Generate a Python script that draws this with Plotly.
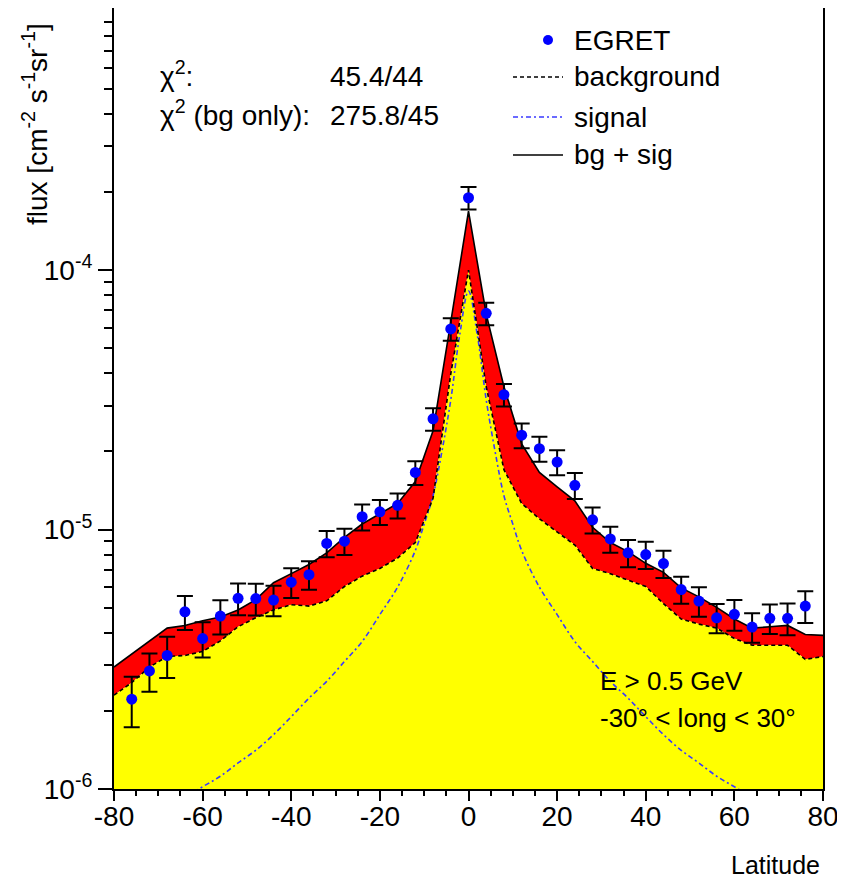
import plotly.graph_objects as go

# ---------------- data (flux in units of 1e-6 cm^-2 s^-1 sr^-1) ----------------
lat_pts = [-76, -72, -68, -64, -60, -56, -52, -48, -44, -40, -36, -32, -28, -24, -20, -16, -12, -8, -4, 0,
           4, 8, 12, 16, 20, 24, 28, 32, 36, 40, 44, 48, 52, 56, 60, 64, 68, 72, 76]
egret = [2.22, 2.85, 3.27, 4.82, 3.80, 4.64, 5.43, 5.42, 5.35, 6.27, 6.70, 8.84, 9.02, 11.2, 11.7, 12.4, 16.6, 26.7, 59.3, 190,
         68.1, 33.1, 23.1, 20.5, 18.2, 14.8, 10.9, 9.2, 8.13, 8.01, 7.39, 5.87, 5.30, 4.57, 4.71, 4.21, 4.55, 4.55, 5.07]
egret_err = [0.49, 0.48, 0.59, 0.72, 0.59, 0.70, 0.76, 0.76, 0.72, 0.82, 0.84, 1.02, 1.04, 1.29, 1.29, 1.36, 1.74, 2.67, 5.9, 19,
             6.8, 3.3, 2.54, 2.26, 2.0, 1.70, 1.25, 1.06, 0.98, 0.96, 0.89, 0.70, 0.69, 0.59, 0.64, 0.55, 0.59, 0.64, 0.71]

lat_curve = [-80, -76, -72, -68, -64, -60, -56, -52, -48, -44, -40, -36, -32, -28, -24, -20, -16, -12, -8, -4, 0,
             4, 8, 12, 16, 20, 24, 28, 32, 36, 40, 44, 48, 52, 56, 60, 64, 68, 72, 76, 80]
background = [2.30, 2.57, 2.95, 3.24, 3.27, 3.39, 3.72, 4.22, 4.57, 4.90, 5.13, 5.07, 5.31, 6.03, 6.61, 7.08, 7.76, 8.91, 13.2, 39.8, 100,
              35.5, 17.0, 12.6, 11.0, 9.77, 8.71, 7.08, 6.76, 6.38, 6.03, 5.18, 4.52, 4.32, 4.17, 3.80, 3.58, 3.58, 3.58, 3.16, 3.24]
bg_sig = [2.95, 3.31, 3.72, 4.17, 4.27, 4.45, 4.60, 4.90, 5.37, 6.24, 6.76, 7.33, 8.13, 9.33, 10.5, 11.5, 12.6, 15.3, 24.0, 63.1, 168.7,
          67.6, 35.5, 21.4, 16.6, 14.6, 12.9, 10.2, 8.91, 8.22, 7.41, 6.84, 5.96, 5.50, 5.01, 4.52, 4.17, 4.22, 4.27, 3.94, 3.91]

lat_sig = [-80, -70, -64, -60, -56, -52, -48, -44, -40, -36, -32, -28, -24, -20, -16, -12, -10, -8, -6, -4, -2, 0,
           2, 4, 6, 8, 10, 12, 16, 20, 24, 28, 32, 36, 40, 44, 48, 52, 56, 60, 64, 70, 80]
signal = [0.66, 0.81, 0.93, 1.02, 1.12, 1.26, 1.41, 1.62, 1.9, 2.24, 2.6, 3.1, 3.7, 4.7, 6.0, 8.3, 10.5, 13.5, 20.0, 31.6, 56, 83,
          56, 31.6, 20.0, 13.5, 10.5, 8.3, 6.0, 4.7, 3.7, 3.1, 2.6, 2.24, 1.9, 1.62, 1.41, 1.26, 1.12, 1.02, 0.93, 0.81, 0.66]

UNIT = 1e-6
FLOOR = 1e-8  # below the axis bottom, used to close the yellow fill

def s(v):
    return [a * UNIT for a in v]

x_ticks = [-80, -60, -40, -20, 0, 20, 40, 60, 80]
x_ticktext = ["-80", "-60", "-40", "-20", "0", "20", "40", "60", "80"]
y_ticks = [1e-6, 1e-5, 1e-4]
y_ticktext = ["10<sup>-6</sup>", "10<sup>-5</sup>", "10<sup>-4</sup>"]
y_minor = [m * 10.0 ** e for e in (-6, -5, -4) for m in range(2, 10)]

FONT = "Liberation Sans, Arial, sans-serif"
SIG_BLUE = "#3a3aff"

fig = go.Figure()

# red band between bg and bg+sig
fig.add_trace(go.Scatter(
    x=lat_curve + lat_curve[::-1], y=s(bg_sig) + s(background)[::-1],
    fill="toself", fillcolor="#ff0000", line=dict(width=0), mode="lines",
    hoverinfo="skip", showlegend=False))
# yellow background fill
fig.add_trace(go.Scatter(
    x=lat_curve + [lat_curve[-1], lat_curve[0]], y=s(background) + [FLOOR, FLOOR],
    fill="toself", fillcolor="#ffff00", line=dict(width=0), mode="lines",
    hoverinfo="skip", showlegend=False))
# signal
fig.add_trace(go.Scatter(
    x=lat_sig, y=s(signal), mode="lines",
    line=dict(color=SIG_BLUE, width=1.6, dash="5px,3px,2px,3px", shape="spline"),
    showlegend=False))
# background line
fig.add_trace(go.Scatter(
    x=lat_curve, y=s(background), mode="lines", line=dict(color="black", width=1.6, dash="4px,3px"),
    showlegend=False))
# bg + sig line
fig.add_trace(go.Scatter(
    x=lat_curve, y=s(bg_sig), mode="lines", line=dict(color="black", width=1.6),
    showlegend=False))
# EGRET data
fig.add_trace(go.Scatter(
    x=lat_pts, y=s(egret), mode="markers",
    marker=dict(color="#0000ff", size=11, symbol="circle"),
    error_y=dict(type="data", array=s(egret_err), color="black", thickness=2, width=8),
    showlegend=False))

fig.update_xaxes(
    range=[-80, 80], tickmode="array", tickvals=x_ticks, ticktext=x_ticktext,
    ticks="outside", ticklen=10, tickwidth=2, tickcolor="black", ticklabelstandoff=-9,
    minor=dict(dtick=5, tick0=0, ticks="outside", ticklen=5, tickwidth=2, tickcolor="black"),
    showline=True, linecolor="black", linewidth=2, mirror=True, showgrid=False, zeroline=False,
    tickfont=dict(family=FONT, size=28, color="black"), layer="below traces", automargin=False)
fig.update_yaxes(
    type="log", range=[-6, -2.99], tickmode="array", tickvals=y_ticks, ticktext=y_ticktext,
    ticks="outside", ticklen=14, tickwidth=2, tickcolor="black",
    minor=dict(tickmode="array", tickvals=y_minor, ticks="outside", ticklen=8, tickwidth=2, tickcolor="black"),
    showline=True, linecolor="black", linewidth=2, mirror=True, showgrid=False, zeroline=False,
    tickfont=dict(family=FONT, size=28, color="black"), layer="below traces", automargin=False)

# page offset: the browser body has an 8px margin
OFF = 8
FIG_W, FIG_H = 845 - OFF, 884 - OFF
# plot area in window pixel coordinates
L, R, T, B = 114, 823, 8, 789
W, H = R - L, B - T

def px(x):
    return (x - L) / W

def py(y):
    return (B - y) / H

ann = []

def text(t, x, y, size, xanchor="left", yanchor="middle", angle=0):
    ann.append(dict(text=t, x=px(x), y=py(y), xref="paper", yref="paper", showarrow=False,
                    xanchor=xanchor, yanchor=yanchor, textangle=angle,
                    font=dict(family=FONT, size=size, color="black")))

text("χ<sup>2</sup>:", 158, 74, 28)
text("χ<sup>2</sup> (bg only):", 158, 113, 28)
text("45.4/44", 328, 77, 28)
text("275.8/45", 328, 116, 28)
text("EGRET", 572, 40, 28)
text("background", 572, 77, 28)
text("signal", 572, 117, 28)
text("bg + sig", 572, 155, 28)
text("E > 0.5 GeV", 598, 681, 26)
text("-30° < long < 30°", 598, 718, 26)
text("Latitude", 822, 865, 25, xanchor="right")
text("flux [cm<sup>-2</sup> s<sup>-1</sup>sr<sup>-1</sup>]", 35, 124, 28, xanchor="center", yanchor="middle", angle=-90)

shapes = [
    dict(type="line", xref="paper", yref="paper", x0=px(513), x1=px(563), y0=py(77), y1=py(77),
         line=dict(color="black", width=1.6, dash="4px,3px")),
    dict(type="line", xref="paper", yref="paper", x0=px(513), x1=px(563), y0=py(117), y1=py(117),
         line=dict(color=SIG_BLUE, width=1.6, dash="5px,3px,2px,3px")),
    dict(type="line", xref="paper", yref="paper", x0=px(513), x1=px(563), y0=py(155), y1=py(155),
         line=dict(color="black", width=1.6)),
    dict(type="circle", xref="paper", yref="paper", xsizemode="pixel", ysizemode="pixel",
         xanchor=px(548), yanchor=py(40), x0=-5, x1=5, y0=-5, y1=5,
         fillcolor="#0000ff", line=dict(color="#0000ff", width=0)),
]

fig.update_layout(
    width=FIG_W, height=FIG_H,
    margin=dict(l=L - OFF, r=FIG_W - (R - OFF), t=T - OFF, b=FIG_H - (B - OFF), autoexpand=False),
    paper_bgcolor="white", plot_bgcolor="white",
    annotations=ann, shapes=shapes, showlegend=False,
    font=dict(family=FONT, color="black"))

fig.write_html("out.html")
